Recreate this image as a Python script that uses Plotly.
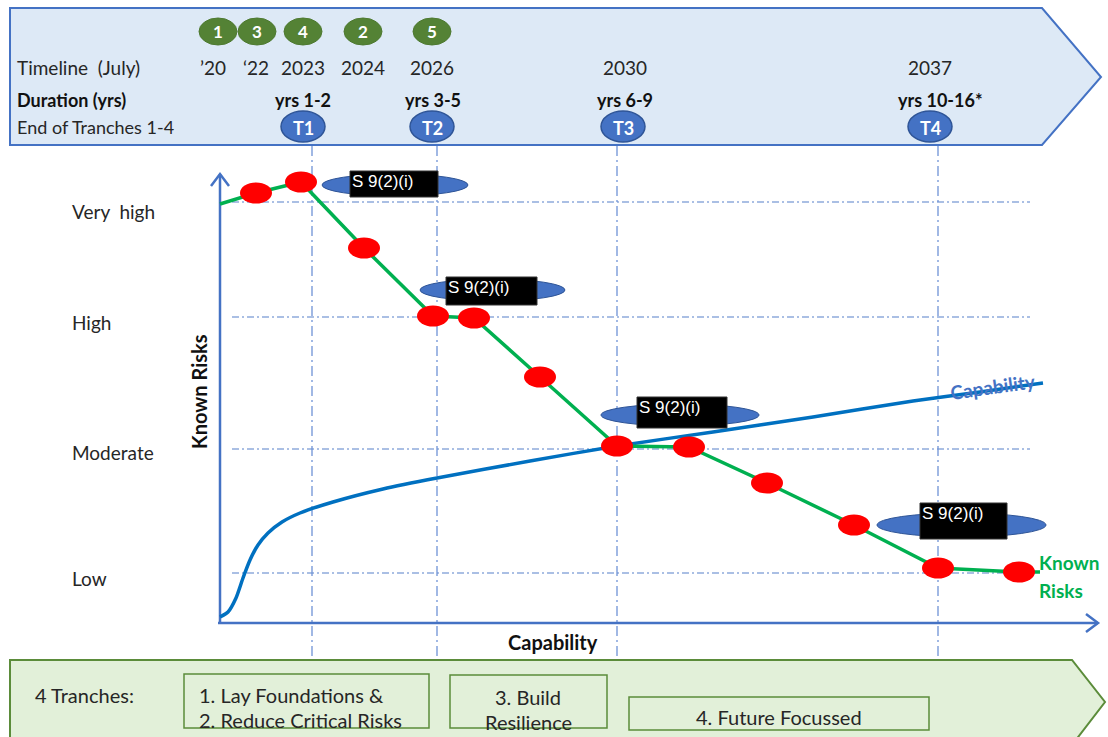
import plotly.graph_objects as go

# ---------------- data (chart units: x = capability from axis origin, y = known-risk height above x-axis)
milestone_x = [38, 83, 146, 215, 256, 322, 399, 471, 549, 636, 720, 801]
milestone_y = [429, 440, 374, 306, 304, 245, 176, 175, 139, 97, 54, 50]
risk_start = (2, 418)
risk_end = (822, 50)

capability_x = [2, 10, 18, 25, 32, 40, 50, 64, 82, 115, 165, 219, 312, 399, 495, 595, 695, 762, 825]
capability_y = [5, 10, 24, 44, 62, 77, 89, 100, 109, 120, 133, 144, 161, 176, 190, 205, 221, 230, 239]

level_names = ["Very\u00a0\u00a0high", "High", "Moderate", "Low"]
level_values = [420, 305, 173, 49]

tranche_line_x = [94, 219, 399, 720]
tranche_names = ["T1", "T2", "T3", "T4"]
tranche_label_x = [303, 432, 623, 930]

timeline_labels = ["\u201920", "\u201822", "2023", "2024", "2026", "2030", "2037"]
timeline_x = [213, 256, 303, 363, 432, 625, 930]
badge_labels = ["1", "3", "4", "2", "5"]
badge_x = [218, 257, 303, 363, 432]
duration_labels = ["yrs 1-2", "yrs 3-5", "yrs 6-9", "yrs 10-16*"]
duration_x = [303, 433, 625, 940]

redacted_ellipses = [(322, 468, 174, 196), (420, 565, 279, 301), (601, 759, 404, 426), (877, 1046, 513, 537)]
redacted_boxes = [(350, 438, 171, 197), (446, 537, 277, 305), (637, 727, 397, 428), (920, 1007, 503, 539)]
redacted_text = "S 9(2)(i)"

# ---------------- helpers (pixel -> axis units for decorations)
OX, OY = 218, 622
def X(px): return px - OX
def Y(py): return OY - py

FONT = "Lato"
BLUE = "#4472c4"
shapes = []
anns = []

def ann(px, py, text, size=18, color="#262626", bold=False, xanchor="center", angle=0, family=FONT):
    if bold:
        text = "<b>" + text + "</b>"
    shift = -2 if xanchor == "left" else 0
    anns.append(dict(x=X(px), y=Y(py), text=text, showarrow=False, xanchor=xanchor, yanchor="middle",
                     xshift=shift, textangle=angle, font=dict(family=family, size=size, color=color)))

def path(pts, fill=None, line=BLUE, width=2, layer="below", close=True):
    d = "M " + " L ".join(f"{X(a)},{Y(b)}" for a, b in pts) + (" Z" if close else "")
    shapes.append(dict(type="path", path=d, xref="x", yref="y", layer=layer,
                       fillcolor=fill if fill else "rgba(0,0,0,0)", line=dict(color=line, width=width)))

def ellipse(x0, x1, y0, y1, fill, line, width=1, layer="above"):
    shapes.append(dict(type="circle", xref="x", yref="y", x0=X(x0), x1=X(x1), y0=Y(y1), y1=Y(y0),
                       fillcolor=fill, line=dict(color=line, width=width), layer=layer))

def rect(x0, x1, y0, y1, fill, line, width=1, layer="above"):
    shapes.append(dict(type="rect", xref="x", yref="y", x0=X(x0), x1=X(x1), y0=Y(y1), y1=Y(y0),
                       fillcolor=fill, line=dict(color=line, width=width), layer=layer))

# ---------------- banners
path([(10, 8), (1042, 8), (1101, 77), (1042, 145), (10, 145)], fill="#dde9f6", line=BLUE, width=2)
path([(10, 660), (1072, 660), (1105, 702), (1072, 745), (10, 745)], fill="#e2f0d9", line="#5b8c3a", width=2)

# grid lines
for v in level_values:
    shapes.append(dict(type="line", xref="x", yref="y", x0=X(232), x1=X(1030), y0=v, y1=v, layer="below",
                       line=dict(color="#8faadc", width=1.5, dash="7px,3px,2px,3px")))
for tx in tranche_line_x:
    shapes.append(dict(type="line", xref="x", yref="y", x0=tx, x1=tx, y0=Y(146), y1=Y(660), layer="below",
                       line=dict(color="#6f93d6", width=1.3, dash="10px,4px,2px,4px")))

# axes with open arrowheads
path([(220, 622), (220, 174)], line=BLUE, width=2.5, close=False)
path([(211, 186), (220, 174), (229, 186)], line=BLUE, width=2.5, close=False)
path([(218, 623), (1098, 623)], line=BLUE, width=2.5, close=False)
path([(1086, 614), (1098, 623), (1086, 632)], line=BLUE, width=2.5, close=False)

# badges in top banner
for lab, bx in zip(badge_labels, badge_x):
    ellipse(bx - 19, bx + 19, 18, 45, "#548235", "#4e7a31", layer="below")
    ann(bx, 31, lab, size=17, color="white", bold=True)
for lab, tx in zip(tranche_names, tranche_label_x):
    ellipse(tx - 22, tx + 22, 111, 142, BLUE, "#2f5597", width=1.5, layer="below")
    ann(tx, 128, lab, size=18, color="white", bold=True)

ann(17, 67, "Timeline\u00a0\u00a0(July)", size=19, xanchor="left")
ann(17, 100, "Duration (yrs)", size=18, bold=True, color="#111", xanchor="left")
ann(17, 127, "End of Tranches 1-4", size=18, xanchor="left")
for lab, tx in zip(timeline_labels, timeline_x):
    ann(tx, 67, lab, size=19)
for lab, dx in zip(duration_labels, duration_x):
    ann(dx, 100, lab, size=18, bold=True, color="#111")

# bottom banner
ann(35, 695, "4 Tranches:", size=20, xanchor="left")
rect(184, 429, 674, 728, "rgba(0,0,0,0)", "#5b8c3a", width=1.5, layer="below")
rect(450, 607, 675, 728, "rgba(0,0,0,0)", "#5b8c3a", width=1.5, layer="below")
rect(629, 929, 697, 730, "rgba(0,0,0,0)", "#5b8c3a", width=1.5, layer="below")
ann(199, 695, "1. Lay Foundations &", size=20, xanchor="left")
ann(199, 720, "2. Reduce Critical Risks", size=20, xanchor="left")
ann(528, 697, "3. Build", size=20)
ann(528, 722, "Resilience", size=20)
ann(779, 717, "4. Future Focussed", size=20)

# level labels
level_label_py = [211, 322, 452, 578]
for name, py in zip(level_names, level_label_py):
    ann(72, py, name, size=19, xanchor="left")

ann(199, 392, "Known Risks", size=20, bold=True, color="#111", angle=-90)
ann(553, 642, "Capability", size=20, bold=True, color="#111")
ann(1039, 562, "Known", size=19, bold=True, color="#00b050", xanchor="left")
ann(1039, 590, "Risks", size=19, bold=True, color="#00b050", xanchor="left")
ann(993, 386, "Capability", size=19, bold=True, color=BLUE, angle=-8)

# ---------------- traces
fig = go.Figure()
fig.add_trace(go.Scatter(x=capability_x, y=capability_y, mode="lines",
                         line=dict(color="#0070c0", width=3.5, shape="spline", smoothing=0.6), hoverinfo="skip"))
line_x = [risk_start[0]] + milestone_x + [risk_end[0]]
line_y = [risk_start[1]] + milestone_y + [risk_end[1]]
fig.add_trace(go.Scatter(x=line_x, y=line_y, mode="lines", line=dict(color="#00b050", width=3.5), hoverinfo="skip"))

# red milestone dots (ellipses in data coordinates)
for mx, my in zip(milestone_x, milestone_y):
    shapes.append(dict(type="circle", xref="x", yref="y", x0=mx - 16, x1=mx + 16, y0=my - 10.5, y1=my + 10.5,
                       fillcolor="#ff0000", line=dict(color="#ff0000", width=0), layer="above"))

# redacted labels
for (x0, x1, y0, y1) in redacted_ellipses:
    ellipse(x0, x1, y0, y1, BLUE, "#2f5597", width=1)
for (x0, x1, y0, y1) in redacted_boxes:
    rect(x0, x1, y0, y1, "black", "#333", width=1)
    ann(x0 + 2, y0 + 10, redacted_text, size=17, color="white", xanchor="left", family="Liberation Sans")

fig.update_layout(
    width=1108, height=737, margin=dict(l=0, r=0, t=0, b=0),
    paper_bgcolor="white", plot_bgcolor="white", showlegend=False,
    xaxis=dict(range=[-OX, 1108 - OX], visible=False, fixedrange=True),
    yaxis=dict(range=[OY - 737, OY], visible=False, fixedrange=True),
    shapes=shapes, annotations=anns,
)
fig.write_html("out.html")
